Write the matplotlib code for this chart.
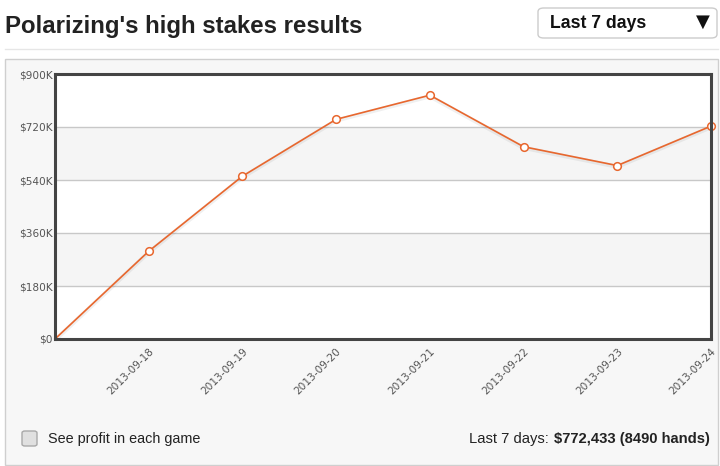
import matplotlib
matplotlib.use("Agg")
import matplotlib.pyplot as plt
from matplotlib.patches import FancyBboxPatch, Rectangle
from matplotlib.lines import Line2D

# ---- data ----
dates = ["2013-09-17", "2013-09-18", "2013-09-19", "2013-09-20",
         "2013-09-21", "2013-09-22", "2013-09-23", "2013-09-24"]
profit_k = [0, 298, 553, 746, 828, 653, 589, 723]
tick_labels = dates[1:]
y_ticks_k = [0, 180, 360, 540, 720, 900]
title = "Polarizing's high stakes results"
period = "Last 7 days"
total_text = "$772,433 (8490 hands)"

W, H = 720, 466
fig = plt.figure(figsize=(W / 100, H / 100), dpi=100)
fig.patch.set_facecolor("white")

def fx(px):
    return px / W

def fy(py):
    return 1 - py / H

# container
fig.patches.append(Rectangle((fx(5), fy(465)), fx(718) - fx(5), fy(59) - fy(465),
                             transform=fig.transFigure, facecolor="#f7f7f7",
                             edgecolor="#cfcfcf", linewidth=1, zorder=-5))
# separator line
fig.lines.append(Line2D([fx(5), fx(718)], [fy(49), fy(49)], transform=fig.transFigure,
                        color="#e6e6e6", linewidth=1, zorder=-5))

# title
fig.text(fx(5), fy(27), title, fontsize=17.3, fontweight="bold", color="#222222",
         family="Liberation Sans", va="center", ha="left")

# dropdown
fig.patches.append(FancyBboxPatch((fx(538), fy(38)), fx(717) - fx(538), fy(8) - fy(38),
                                  boxstyle="round,pad=0,rounding_size=0.008",
                                  transform=fig.transFigure, facecolor="white",
                                  edgecolor="#cccccc", linewidth=1, zorder=-4))
fig.text(fx(550), fy(23), period, fontsize=12.7, fontweight="bold", color="#111111",
         family="Liberation Sans", va="center", ha="left")
fig.text(fx(703), fy(22), "▼", fontsize=13, color="#111111",
         family="DejaVu Sans", va="center", ha="center")

# axes
ax = fig.add_axes([fx(55), fy(339), fx(711) - fx(55), fy(74) - fy(339)], zorder=2)
ax.set_facecolor("white")
x = list(range(len(profit_k)))
ax.set_xlim(0, len(profit_k) - 1)
ax.set_ylim(0, 900)

# alternating bands
for i in range(len(y_ticks_k) - 1):
    if i % 2 == 1:
        ax.axhspan(y_ticks_k[i], y_ticks_k[i + 1], color="#f5f5f5", zorder=0, lw=0)
for yt in y_ticks_k[1:-1]:
    ax.axhline(yt, color="#c8c8c8", linewidth=1, zorder=1)

# shadow + line
ax.plot(x, [v - 4 for v in profit_k], color="#000000", alpha=0.06, linewidth=3, zorder=2)
ax.plot(x, profit_k, color="#e8672e", linewidth=1.2, zorder=3,
        marker="o", markersize=5.5, markerfacecolor="white",
        markeredgecolor="#e8672e", markeredgewidth=1.1, clip_on=False,
        markevery=list(range(1, len(profit_k))))

ax.set_yticks(y_ticks_k)
ax.set_yticklabels(["$0" if v == 0 else f"${v}K" for v in y_ticks_k])
ax.set_xticks(x[1:])
ax.set_xticklabels(tick_labels, rotation=45, ha="right", rotation_mode="anchor")
ax.tick_params(axis="both", length=0, labelsize=7.6, labelcolor="#555555", pad=1.5)
ax.tick_params(axis="x", pad=5)
for s in ax.spines.values():
    s.set_color("#444444")
    s.set_linewidth(2.2)
    s.set_zorder(5)

# checkbox
fig.patches.append(FancyBboxPatch((fx(22), fy(446)), fx(37) - fx(22), fy(431) - fy(446),
                                  boxstyle="round,pad=0,rounding_size=0.004",
                                  transform=fig.transFigure, facecolor="#e0e0e0",
                                  edgecolor="#a8a8a8", linewidth=1, zorder=-4))
fig.text(fx(48), fy(439), "See profit in each game", fontsize=10.4, color="#222222",
         family="Liberation Sans", va="center", ha="left")

t2 = fig.text(fx(710), fy(439), total_text, fontsize=10.6, fontweight="bold",
              color="#222222", family="Liberation Sans", va="center", ha="right")
fig.canvas.draw()
bb = t2.get_window_extent()
fig.text((bb.x0 - 5) / W, fy(439), period + ":", fontsize=10.6, color="#222222",
         family="Liberation Sans", va="center", ha="right")

fig.savefig("out.png", dpi=100)
